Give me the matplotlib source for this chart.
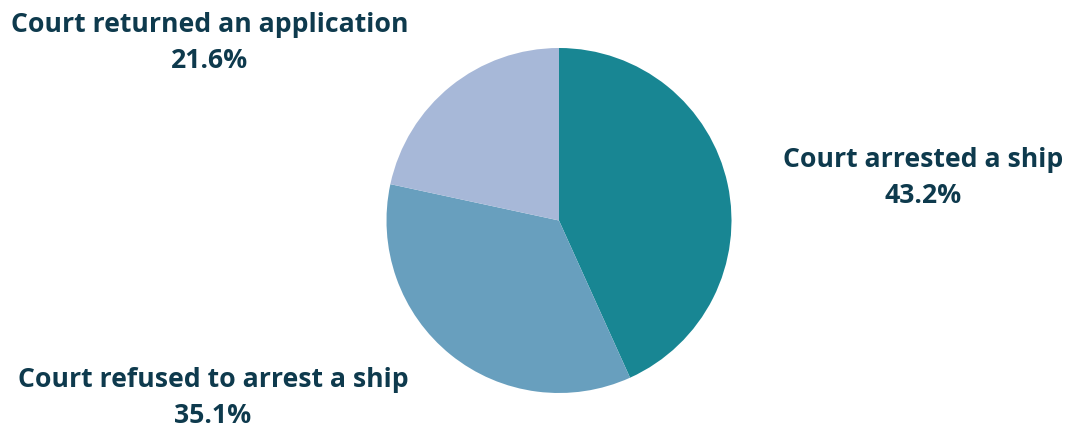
import matplotlib.pyplot as plt

# data
categories = ["Court arrested a ship", "Court refused to arrest a ship", "Court returned an application"]
shares = [43.2, 35.1, 21.6]
colors = ["#188693", "#689fbe", "#a7b8d8"]
text_color = "#0e3a4d"

plt.rcParams['font.family'] = ['Open Sans', 'DejaVu Sans']

W, H = 1067, 429
fig = plt.figure(figsize=(W / 100, H / 100), dpi=100)

# pie axes: centre ~ (559, 220.5) px, radius ~172.5 px
r = 172.5
ax = fig.add_axes([(559 - r) / W, (H - 220.5 - r) / H, 2 * r / W, 2 * r / H])
ax.pie(shares, colors=colors, startangle=90, counterclock=False, radius=1,
       wedgeprops=dict(linewidth=0))
ax.set_xlim(-1, 1)
ax.set_ylim(-1, 1)
ax.set_aspect('equal')
ax.axis('off')

# label positions (pixel centres of the two text blocks)
label_pos = [(923, 178), (213, 398), (210, 43)]
for name, val, (x, y) in zip(categories, shares, label_pos):
    fig.text(x / W, 1 - y / H, f"{name}\n{val:.1f}%", ha='center', va='center',
             fontsize=19.2, fontweight='bold', color=text_color, linespacing=1.5)

fig.savefig("out.png", dpi=100)
